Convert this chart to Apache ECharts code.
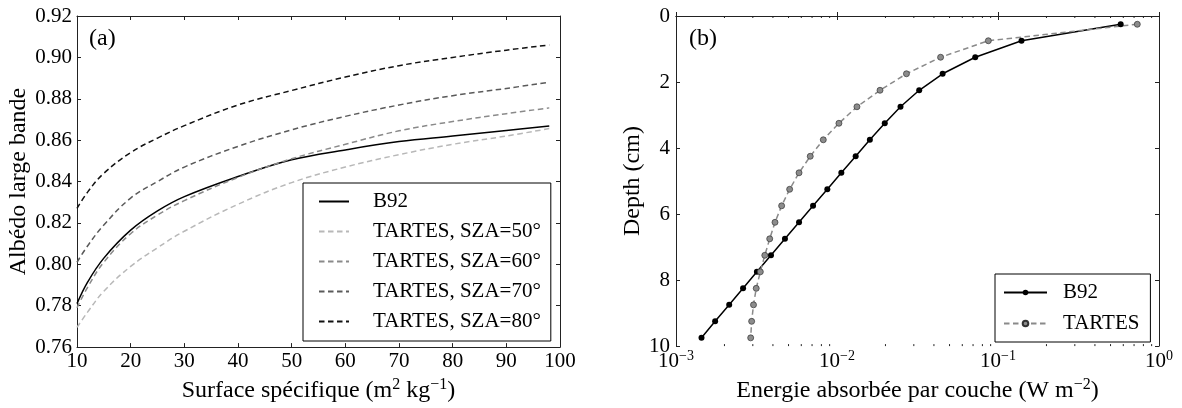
<!DOCTYPE html>
<html>
<head>
<meta charset="utf-8">
<script src="https://cdn.jsdelivr.net/npm/echarts@6/dist/echarts.min.js"></script>
<style>
  html, body { margin: 0; padding: 0; background: #fff; }
  #chart { width: 1182px; height: 408px; }
</style>
</head>
<body>
<div id="chart"></div>
<script>
// (a) albedo large bande vs surface specifique
const ssa = [10, 12, 15, 20, 25, 30, 40, 50, 60, 70, 80, 90, 98]
const albedoB92 = [0.781, 0.7915, 0.803, 0.8165, 0.8258, 0.8327, 0.8424, 0.8505, 0.8553, 0.8593, 0.862, 0.8647, 0.8669]
const albedoSza50 = [0.7695, 0.777, 0.787, 0.799, 0.808, 0.816, 0.829, 0.8395, 0.847, 0.853, 0.858, 0.862, 0.8656]
const albedoSza60 = [0.779, 0.789, 0.801, 0.8148, 0.8238, 0.8308, 0.842, 0.851, 0.858, 0.8645, 0.869, 0.8728, 0.8756]
const albedoSza70 = [0.801, 0.809, 0.819, 0.832, 0.840, 0.847, 0.857, 0.865, 0.8715, 0.877, 0.8815, 0.885, 0.888]
const albedoSza80 = [0.827, 0.835, 0.844, 0.854, 0.861, 0.867, 0.877, 0.884, 0.8905, 0.896, 0.900, 0.9035, 0.906]

// (b) energie absorbee par couche vs depth
const layerDepth = [0.25, 0.75, 1.25, 1.75, 2.25, 2.75, 3.25, 3.75, 4.25, 4.75,
  5.25, 5.75, 6.25, 6.75, 7.25, 7.75, 8.25, 8.75, 9.25, 9.75]
const energyB92 = [0.578, 0.140, 0.0722, 0.0453, 0.0324, 0.0248, 0.0198, 0.0160, 0.01306, 0.01064,
  0.00871, 0.00710, 0.00581, 0.00475, 0.00389, 0.00318, 0.00261, 0.00214, 0.00175, 0.00144]
const energyTartes = [0.733, 0.0871, 0.0440, 0.0270, 0.0185, 0.0133, 0.01028, 0.00822, 0.00682, 0.00581,
  0.00508, 0.00453, 0.00412, 0.00382, 0.00356, 0.00334, 0.00315, 0.00303, 0.00295, 0.00291]
const logMinorTicks = [0.002, 0.003, 0.004, 0.005, 0.006, 0.007, 0.008, 0.009,
  0.02, 0.03, 0.04, 0.05, 0.06, 0.07, 0.08, 0.09,
  0.2, 0.3, 0.4, 0.5, 0.6, 0.7, 0.8, 0.9]

const FONT = 'Liberation Serif'
const AXIS_COLOR = '#222'
const supSmall = { sup: { fontSize: 14, fontFamily: FONT, color: '#000', padding: [0, 0, 11, 0] } }
const supBig = { sup: { fontSize: 16, fontFamily: FONT, color: '#000', padding: [0, 0, 12, 0] } }

const zip = (xs, ys) => xs.map((x, i) => [x, ys[i]])

function frameAxis (extra) {
  return Object.assign({
    axisLine: { show: true, lineStyle: { color: AXIS_COLOR, width: 1 } },
    axisTick: { show: true, inside: true, length: 4, lineStyle: { color: AXIS_COLOR } },
    splitLine: { show: false },
    axisLabel: { show: false }
  }, extra)
}

const labelStyle = { show: true, color: '#000', fontFamily: FONT, fontSize: 21, rich: supSmall }
const nameStyle = { color: '#000', fontFamily: FONT, fontSize: 24, rich: supBig }
const panelStyle = { fontFamily: FONT, fontSize: 24, fontWeight: 'normal', color: '#000' }

function albedoLine (name, data, color, dashed) {
  return {
    name: name,
    type: 'line',
    xAxisIndex: 0,
    yAxisIndex: 0,
    symbol: 'none',
    smooth: 0.4,
    lineStyle: { color: color, width: 1.5, type: dashed ? [5.5, 3.5] : 'solid' },
    itemStyle: { color: color },
    data: zip(ssa, data)
  }
}

const option = {
  animation: false,
  backgroundColor: '#fff',
  title: [
    { text: '(a)', left: 89, top: 27, padding: 0, textStyle: panelStyle },
    { text: '(b)', left: 689, top: 27, padding: 0, textStyle: panelStyle }
  ],
  grid: [
    { left: 77, top: 16, width: 483, height: 336 },
    { left: 676, top: 16, width: 483, height: 336 }
  ],
  legend: [
    {
      data: ['B92', 'TARTES, SZA=50°', 'TARTES, SZA=60°', 'TARTES, SZA=70°', 'TARTES, SZA=80°'],
      orient: 'vertical',
      left: 303,
      top: 183,
      itemWidth: 30,
      itemHeight: 14,
      itemGap: 9,
      padding: [8, 10, 9, 15],
      borderColor: '#000',
      borderWidth: 1,
      borderRadius: 0,
      backgroundColor: '#fff',
      selectedMode: false,
      itemStyle: { opacity: 0 },
      textStyle: { fontFamily: FONT, fontSize: 21, color: '#000', padding: [0, 0, 0, 19] }
    },
    {
      data: ['B92 ', 'TARTES'],
      formatter: name => name.trim(),
      orient: 'vertical',
      left: 995,
      top: 274,
      itemWidth: 43,
      itemHeight: 7,
      itemGap: 10,
      padding: [8, 11, 8, 8],
      borderColor: '#000',
      borderWidth: 1,
      borderRadius: 0,
      backgroundColor: '#fff',
      selectedMode: false,
      textStyle: { fontFamily: FONT, fontSize: 21, color: '#000', padding: [0, 0, 0, 11] }
    }
  ],
  xAxis: [
    frameAxis({
      gridIndex: 0, type: 'value', position: 'bottom', min: 10, max: 100, interval: 10,
      axisLabel: Object.assign({}, labelStyle, { margin: 4 }),
      name: 'Surface spécifique (m{sup|2} kg{sup|\u22121})',
      nameLocation: 'middle', nameGap: 25, nameTextStyle: nameStyle
    }),
    frameAxis({ gridIndex: 0, type: 'value', position: 'top', min: 10, max: 100, interval: 10 }),
    frameAxis({
      gridIndex: 1, type: 'log', logBase: 10, position: 'bottom', min: 0.001, max: 1,
      axisLabel: Object.assign({}, labelStyle, {
        margin: 3,
        formatter: v => {
          const e = Math.round(Math.log10(v))
          return '10{sup|' + (e < 0 ? '\u2212' + (-e) : e) + '}'
        }
      }),
      name: 'Energie absorbée par couche (W m{sup|\u22122})',
      nameLocation: 'middle', nameGap: 25, nameTextStyle: nameStyle
    }),
    frameAxis({ gridIndex: 1, type: 'log', logBase: 10, position: 'top', min: 0.001, max: 1 })
  ],
  yAxis: [
    frameAxis({
      gridIndex: 0, type: 'value', position: 'left', min: 0.76, max: 0.92, interval: 0.02,
      axisLabel: Object.assign({}, labelStyle, { margin: 5, formatter: v => v.toFixed(2) }),
      name: 'Albédo large bande', nameLocation: 'middle', nameGap: 46, nameTextStyle: nameStyle
    }),
    frameAxis({ gridIndex: 0, type: 'value', position: 'right', min: 0.76, max: 0.92, interval: 0.02 }),
    frameAxis({
      gridIndex: 1, type: 'value', position: 'left', inverse: true, min: 0, max: 10, interval: 2,
      axisLabel: Object.assign({}, labelStyle, { margin: 6 }),
      name: 'Depth (cm)', nameLocation: 'middle', nameGap: 28, nameTextStyle: nameStyle
    }),
    frameAxis({ gridIndex: 1, type: 'value', position: 'right', inverse: true, min: 0, max: 10, interval: 2 })
  ],
  series: [
    albedoLine('B92', albedoB92, '#000', false),
    albedoLine('TARTES, SZA=50°', albedoSza50, '#b8b8b8', true),
    albedoLine('TARTES, SZA=60°', albedoSza60, '#8a8a8a', true),
    albedoLine('TARTES, SZA=70°', albedoSza70, '#5a5a5a', true),
    albedoLine('TARTES, SZA=80°', albedoSza80, '#111', true),
    {
      name: 'B92 ',
      type: 'line',
      xAxisIndex: 2,
      yAxisIndex: 2,
      symbol: 'circle',
      symbolSize: 6,
      lineStyle: { color: '#000', width: 1.5 },
      itemStyle: { color: '#000' },
      data: zip(energyB92, layerDepth)
    },
    {
      name: 'TARTES',
      type: 'line',
      xAxisIndex: 2,
      yAxisIndex: 2,
      symbol: 'circle',
      symbolSize: 6,
      lineStyle: { color: '#8a8a8a', width: 1.5, type: [5.5, 3.5] },
      itemStyle: { color: '#8c8c8c', borderColor: '#333', borderWidth: 0.7 },
      data: zip(energyTartes, layerDepth)
    },
    {
      // minor ticks of the log axis (2..9 x 10^n), top and bottom
      type: 'custom',
      xAxisIndex: 2,
      yAxisIndex: 2,
      silent: true,
      clip: false,
      data: logMinorTicks.map(v => [v, 0]),
      renderItem (params, api) {
        const b = api.coord([api.value(0), 10])
        const t = api.coord([api.value(0), 0])
        const st = { stroke: AXIS_COLOR, lineWidth: 1 }
        return {
          type: 'group',
          children: [
            { type: 'line', shape: { x1: b[0], y1: b[1], x2: b[0], y2: b[1] - 2 }, style: st },
            { type: 'line', shape: { x1: t[0], y1: t[1], x2: t[0], y2: t[1] + 2 }, style: st }
          ]
        }
      }
    }
  ]
}

const chart = echarts.init(document.getElementById('chart'))
chart.setOption(option)
</script>
</body>
</html>
